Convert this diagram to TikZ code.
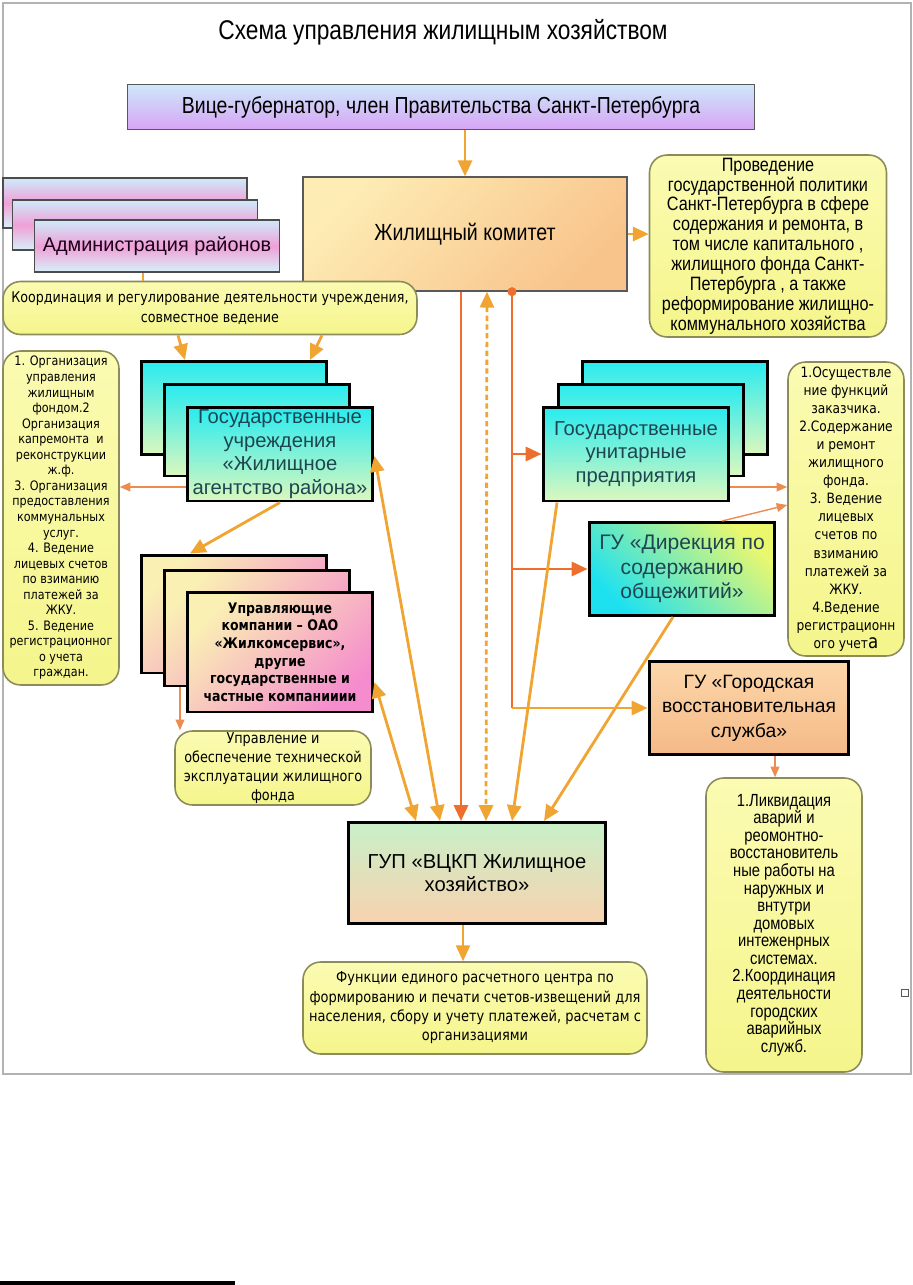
\documentclass[tikz,border=0pt]{standalone}
\usepackage{fontspec}
\setmainfont{Liberation Sans}
\newfontfamily\narrowf[FakeStretch=0.84]{Liberation Sans}
\newfontfamily\verdf[FakeStretch=0.86]{DejaVu Sans}
\usetikzlibrary{arrows.meta,calc}
\newcommand{\fsz}[2]{\fontsize{#1}{#2}\selectfont}

\definecolor{orng}{RGB}{240,165,50}
\definecolor{redorng}{RGB}{238,110,45}
\definecolor{thinorng}{RGB}{235,140,80}
\definecolor{bubbleline}{RGB}{140,140,90}
\definecolor{bubbletop}{RGB}{251,251,178}
\definecolor{bubblebot}{RGB}{245,245,140}
\definecolor{viceTop}{RGB}{205,232,250}
\definecolor{viceBot}{RGB}{215,165,245}
\definecolor{komTop}{RGB}{253,236,180}
\definecolor{komBot}{RGB}{248,196,140}
\definecolor{admTop}{RGB}{205,235,250}
\definecolor{admMid}{RGB}{240,160,215}
\definecolor{admBot}{RGB}{215,240,250}
\definecolor{cyanTop}{RGB}{40,235,240}
\definecolor{cyanBot}{RGB}{220,248,190}
\definecolor{ukTop}{RGB}{250,240,180}
\definecolor{ukBot}{RGB}{245,140,205}
\definecolor{vckpTop}{RGB}{200,240,200}
\definecolor{vckpBot}{RGB}{248,210,175}
\definecolor{dirTop}{RGB}{235,248,110}
\definecolor{dirBot}{RGB}{30,225,240}
\definecolor{svcTop}{RGB}{252,215,170}
\definecolor{svcBot}{RGB}{245,185,135}
\definecolor{tealtext}{RGB}{30,70,80}

\begin{document}
\begin{tikzpicture}[x=0.02cm, y=-0.02cm,
    flat/.style={draw=#1, line width=0.8pt, inner sep=0pt, align=center},
    box/.style={draw=black, line width=1.7pt, inner sep=0pt, align=center},
    bubble/.style={draw=bubbleline, line width=0.9pt, rounded corners=0.35cm,
        top color=bubbletop, bottom color=bubblebot, inner sep=0pt, align=center},
    adm/.style={flat=gray!60!black, top color=admTop, bottom color=admBot,
        middle color=admMid, text=black!80!violet, font=\fsz{11.3}{13}},
    gubox/.style={box, top color=cyanTop, bottom color=cyanBot, text=tealtext,
        font=\fsz{11.5}{13.4}},
    ukbox/.style={box, top color=ukTop, bottom color=ukBot, shading angle=45,
        font={\verdf\bfseries\fsz{8.3}{10}}},
    arr/.style={draw=orng, line width=1.6pt, -{Triangle[length=9pt,width=8pt]}},
    redarr/.style={arr, draw=redorng},
    twoway/.style={arr, {Triangle[length=9pt,width=8pt]}-{Triangle[length=9pt,width=8pt]}},
    thin/.style={draw=thinorng, line width=0.8pt, -{Triangle[length=6pt,width=5pt]}}]

    \useasboundingbox (0,0) rectangle (913,1285);

    % Frame and footnote rule
    \draw[gray!60, line width=0.8pt] (3,3) rectangle (911,1074);
    \draw[line width=1.8pt] (0,1283) -- (235,1283);

    % Title
    \node (title) at (443,32) {\narrowf\fsz{15.4}{18}Схема управления жилищным хозяйством};

    % Top of the scheme
    \node[flat=gray!70!black, top color=viceTop, bottom color=viceBot,
        minimum width=12.54cm, minimum height=0.9cm, font={\narrowf\fsz{13.2}{16}}]
        (vice) at (441,107) {Вице-губернатор, член Правительства Санкт-Петербурга};
    \node[flat=gray!70!black, top color=komTop, bottom color=komBot, shading angle=45,
        minimum width=6.48cm, minimum height=2.28cm, font={\narrowf\fsz{13.3}{16}}]
        (kom) at (465,234) {Жилищный комитет};
    \node[bubble, minimum width=4.74cm, minimum height=3.64cm, font={\narrowf\fsz{11}{11.3}}]
        (polit) at (768,246) {Проведение\\государственной политики\\Санкт-Петербурга в сфере\\содержания и ремонта, в\\том числе капитального ,\\жилищного фонда Санкт-\\Петербурга , а также\\реформирование жилищно-\\коммунального хозяйства};

    % Administrations
    \node[adm, minimum width=4.88cm, minimum height=1cm] (adm3) at (125,203) {};
    \node[adm, minimum width=4.9cm, minimum height=1cm] (adm2) at (135,225) {};
    \node[adm, minimum width=4.9cm, minimum height=1.04cm] (adm1) at (157,246) {Администрация районов};
    \node[bubble, minimum width=8.28cm, minimum height=1.06cm, font={\verdf\fsz{8.4}{11}}]
        (coord) at (210,308) {Координация и регулирование деятельности учреждения,\\совместное ведение};
    \node[bubble, minimum width=2.32cm, minimum height=6.68cm, font={\verdf\fsz{7.4}{8.85}}]
        (func) at (61,518) {1. Организация\\управления\\жилищным\\фондом.2\\Организация\\капремонта~ и\\реконструкции\\ж.ф.\\3. Организация\\предоставления\\коммунальных\\услуг.\\4. Ведение\\лицевых счетов\\по взиманию\\платежей за\\ЖКУ.\\5. Ведение\\регистрационног\\о учета\\граждан.};

    % District agencies
    \node[gubox, minimum width=3.72cm, minimum height=1.86cm] (gu1) at (234,408) {};
    \node[gubox, minimum width=3.72cm, minimum height=1.84cm] (gu2) at (257,430) {};
    \node[gubox, minimum width=3.72cm, minimum height=1.88cm] (gu3) at (280,454) {Государственные\\учреждения\\«Жилищное\\агентство района»};

    % Managing companies
    \node[ukbox, minimum width=3.72cm, minimum height=2.36cm] (uk1) at (234,614) {};
    \node[ukbox, minimum width=3.72cm, minimum height=2.32cm] (uk2) at (257,628) {};
    \node[ukbox, minimum width=3.72cm, minimum height=2.4cm] (uk3) at (280,652) {Управляющие\\компании – ОАО\\«Жилкомсервис»,\\другие\\государственные и\\частные компанииии};
    \node[bubble, minimum width=3.92cm, minimum height=1.48cm, font={\verdf\fsz{8.5}{10.8}}]
        (tech) at (273,768) {Управление и\\обеспечение технической\\эксплуатации жилищного\\фонда};

    % Unitary enterprises and services
    \node[gubox, minimum width=3.72cm, minimum height=1.86cm] (unit1) at (675,408) {};
    \node[gubox, minimum width=3.72cm, minimum height=1.84cm] (unit2) at (651,430) {};
    \node[gubox, minimum width=3.72cm, minimum height=1.88cm] (unit3) at (636,454) {Государственные\\унитарные\\предприятия};
    \node[box, top color=dirTop, bottom color=dirBot, shading angle=-45, text=tealtext,
        minimum width=3.72cm, minimum height=1.86cm, font=\fsz{12}{14}]
        (dir) at (682,569) {ГУ «Дирекция по\\содержанию\\общежитий»};
    \node[box, top color=svcTop, bottom color=svcBot, minimum width=4cm, minimum height=1.86cm,
        font=\fsz{11}{14}] (svc) at (749,708) {ГУ «Городская\\восстановительная\\служба»};
    \node[bubble, minimum width=2.32cm, minimum height=5.88cm, font={\verdf\fsz{8.1}{10.3}}]
        (zak) at (846,509) {1.Осуществле\\ние функций\\заказчика.\\2.Содержание\\и ремонт\\жилищного\\фонда.\\3. Ведение\\лицевых\\счетов по\\взиманию\\платежей за\\ЖКУ.\\4.Ведение\\регистрационн\\ого учет{\fsz{11}{10}a}};
    \node[bubble, minimum width=3.12cm, minimum height=5.88cm, font={\narrowf\fsz{10}{10}}]
        (avar) at (784,925) {1.Ликвидация\\аварий и\\реомонтно-\\восстановитель\\ные работы на\\наружных и\\внтутри\\домовых\\интеженрных\\системах.\\2.Координация\\деятельности\\городских\\аварийных\\служб.};

    % Settlement centre
    \node[box, top color=vckpTop, bottom color=vckpBot, minimum width=5.16cm, minimum height=2.02cm,
        font=\fsz{11.5}{13}] (vckp) at (477,873) {ГУП «ВЦКП Жилищное\\хозяйство»};
    \node[bubble, minimum width=6.88cm, minimum height=1.84cm, font={\verdf\fsz{8.6}{11}}]
        (rc) at (475,1008) {Функции единого расчетного центра по\\формированию и печати счетов-извещений для\\населения, сбору и учету платежей, расчетам с\\организациями};
    \node[draw=gray!70!black, line width=0.6pt, minimum size=4.5pt, inner sep=0pt] (sq) at (905,993) {};

    % Arrows from the top
    \draw[arr] (vice.south -| kom.north) -- (kom.north);
    \draw[arr] (kom.east) -- (kom.east -| polit.west);
    \draw[draw=orng, line width=1.6pt] ($(adm1.south)+(-14,0)$) -- ($(coord.north)+(-67,0)$);
    \draw[arr] ($(coord.south)+(-32,0)$) -- ($(gu1.north)+(-49,0)$);
    \draw[arr] ($(coord.south)+(112,0)$) -- ($(gu1.north)+(76,0)$);

    % Left column
    \draw[thin] ($(gu3.west)+(0,33)$) -- ($(func.east)+(0,-31)$);
    \draw[arr] (gu3.south) -- ($(uk1.north)+(-44,0)$);
    \draw[thin] ($(uk2.south)+(-77,0)$) -- ($(tech.north)+(-93,0)$);
    \draw[twoway] ($(uk3.east)+(0,30)$) -- ($(vckp.north)+(-61,0)$);
    \draw[twoway] ($(gu3.east)+(0,2)$) -- ($(vckp.north)+(-37,0)$);

    % Middle lines
    \draw[redarr] ($(kom.south)+(-4,0)$) -- ($(vckp.north)+(-16,0)$);
    \draw[twoway, dash pattern=on 3pt off 2pt] ($(kom.south)+(22,0)$) -- ($(vckp.north)+(9,0)$);

    % Trunk to the right column
    \coordinate (tr) at ($(kom.south)+(47,0)$);
    \draw[redorng, line width=1.6pt] (tr) -- (tr |- svc.west);
    \fill[redorng] (tr) circle (2.6pt);
    \draw[redarr] (tr |- unit3.west) -- (unit3.west);
    \draw[redarr] (tr |- dir.west) -- (dir.west);
    \draw[arr] (tr |- svc.west) -- (svc.west);

    % Right column
    \draw[thin] ($(unit3.east)+(0,33)$) -- ($(zak.west)+(0,-22)$);
    \draw[thin] ($(dir.north)+(40,0)$) -- ($(zak.west)+(0,-4)$);
    \draw[arr] ($(unit3.south)+(-79,0)$) -- ($(vckp.north)+(35,0)$);
    \draw[arr] ($(dir.south)+(-9,0)$) -- ($(vckp.north)+(67,0)$);
    \draw[thin] ($(svc.south)+(26,0)$) -- ($(avar.north)+(-9,0)$);

    % Bottom
    \draw[arr, line width=1pt] ($(vckp.south)+(-14,0)$) -- ($(rc.north)+(-12,0)$);
\end{tikzpicture}
\end{document}
